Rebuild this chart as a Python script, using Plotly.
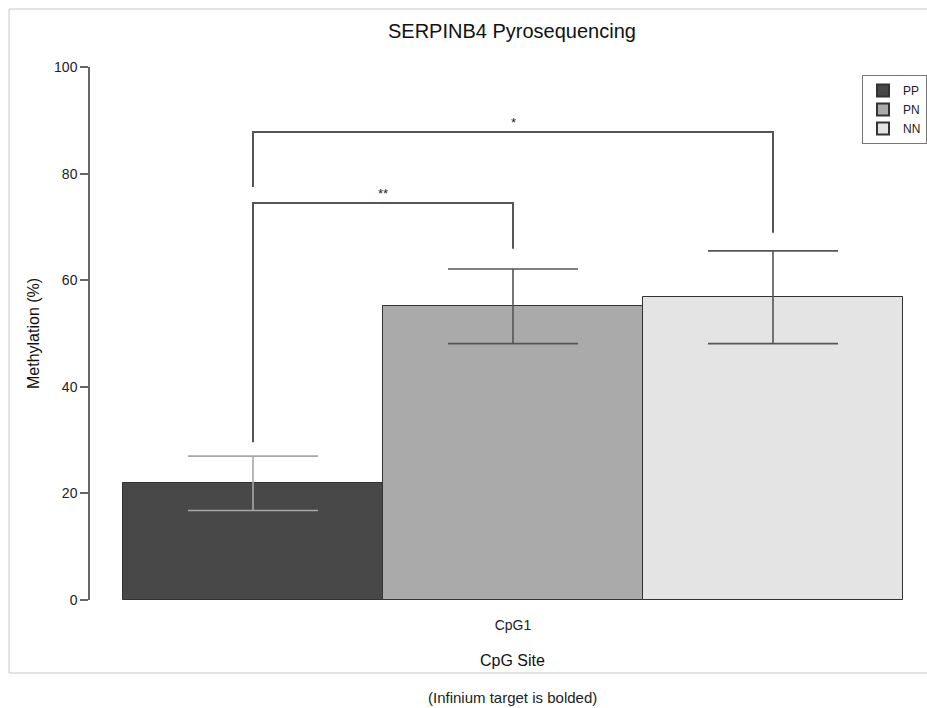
import plotly.graph_objects as go

groups = ["PP", "PN", "NN"]
category = ["CpG1"]
means = [21.9, 55.1, 56.8]
errors = [5.1, 7.0, 8.7]
bar_colors = ["#484848", "#aaaaaa", "#e4e4e4"]
err_colors = ["#a8a8a8", "#555555", "#555555"]

# significance brackets: (group a, group b, top y, leg-a bottom, leg-b bottom, label)
brackets = [
    (0, 1, 74.5, 29.6, 65.9, "**"),
    (0, 2, 87.8, 77.5, 68.9, "*"),
]

fig = go.Figure()
for i, g in enumerate(groups):
    fig.add_trace(go.Bar(
        name=g, x=category, y=[means[i]], offsetgroup=str(i),
        marker=dict(color=bar_colors[i], line=dict(color="#333333", width=1)),
        error_y=dict(type="data", array=[errors[i]], visible=True,
                     color=err_colors[i], thickness=1.6, width=65),
    ))

n = len(groups)
def center(k):
    return -0.5 + (k + 0.5) / n

L, R, T, B = 90, 910, 67, 600
PW, PH = R - L, B - T
def px(xp):
    return (xp - L) / PW
def py(yp):
    return (B - yp) / PH

lc = "#555555"
for a, b, top, ya, yb, lab in brackets:
    xa, xb = center(a), center(b)
    fig.add_shape(type="path", xref="x", yref="y",
                  path=f"M {xa},{ya} L {xa},{top} L {xb},{top} L {xb},{yb}",
                  line=dict(color=lc, width=2))
    fig.add_annotation(x=(xa + xb) / 2, y=top, xref="x", yref="y", text=lab,
                       showarrow=False, yanchor="bottom", xanchor="center", yshift=0,
                       font=dict(size=13, color="#222222"))

# outer frame
fig.add_shape(type="rect", xref="paper", yref="paper",
              x0=px(9), x1=px(935), y0=py(673), y1=py(9),
              line=dict(color="#c8c8c8", width=1), layer="below")

def label(text, xp, yp, size, angle=0, color="#111111"):
    fig.add_annotation(text=text, xref="paper", yref="paper", x=px(xp), y=py(yp),
                       xanchor="center", yanchor="middle", showarrow=False,
                       textangle=angle, font=dict(size=size, color=color))

label("SERPINB4 Pyrosequencing", 512, 31, 20)
label("CpG Site", 512, 660, 16)
label("(Infinium target is bolded)", 512, 697, 15, color="#222222")
label("Methylation (%)", 33, 333, 16, angle=-90)

fig.update_layout(
    width=927, height=708,
    margin=dict(l=L, r=927 - R, t=T, b=708 - B, autoexpand=False),
    paper_bgcolor="white", plot_bgcolor="white",
    font=dict(family="Liberation Sans, Arial, sans-serif", color="#222222"),
    barmode="group", bargap=0, bargroupgap=0,
    showlegend=True,
    legend=dict(x=px(862), y=py(75), xanchor="left", yanchor="top",
                bgcolor="white", bordercolor="#777777", borderwidth=1,
                font=dict(size=12, color="#222222"), tracegroupgap=0,
                itemsizing="constant"),
    xaxis=dict(range=[-0.5 - 33 / 780, 0.5 + 7 / 780], showline=False, showgrid=False,
               zeroline=False, ticks="", ticklabelstandoff=15,
               tickfont=dict(size=14, color="#222222")),
    yaxis=dict(range=[0, 100], tickvals=[0, 20, 40, 60, 80, 100], showgrid=False,
               zeroline=False, showline=True, linecolor="#666666", linewidth=1.5,
               ticks="outside", ticklen=8, tickcolor="#666666", tickwidth=1.5,
               tickfont=dict(size=14, color="#222222")),
)

fig.write_html("out.html", config={"displayModeBar": False},
               post_script="document.body.style.margin='0';document.body.style.overflow='hidden';")
